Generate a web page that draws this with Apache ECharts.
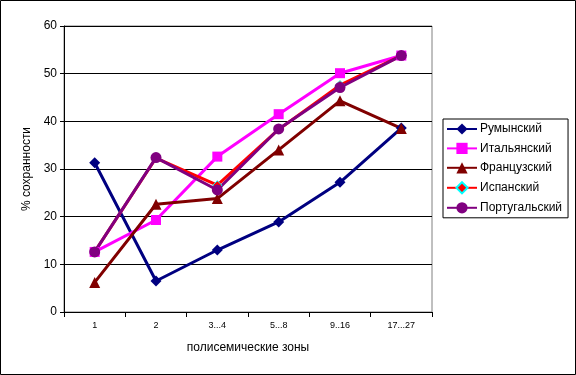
<!DOCTYPE html>
<html><head><meta charset="utf-8">
<script src="https://cdn.jsdelivr.net/npm/echarts@6/dist/echarts.min.js"></script>
<style>html,body{margin:0;padding:0;background:#fff}#c{width:576px;height:375px}</style>
</head><body><div id="c"></div>
<script>
const categories = ['1','2','3...4','5...8','9..16','17...27'];
const romanian   = [31.3, 6.5, 13.0, 18.9, 27.2, 38.6];
const italian    = [12.6, 19.3, 32.6, 41.5, 50.1, 53.8];
const french     = [6.2, 22.6, 23.8, 34.0, 44.3, 38.5];
const spanish    = [12.6, 32.3, 26.6, 38.3, 47.6, 53.8];
const portuguese = [12.6, 32.4, 25.6, 38.4, 47.1, 53.8];
const yTicks = [0,10,20,30,40,50,60];

const F = 'Liberation Sans, Arial, sans-serif';
const chart = echarts.init(document.getElementById('c'), null, {renderer:'canvas'});
function s(name, data, color, symbol, size, extra) {
  return Object.assign({
    name, type:'line', data, symbol, symbolSize:size,
    lineStyle:{color, width:3}, itemStyle:{color, borderWidth:0},
    animation:false
  }, extra||{});
}
chart.setOption({
  animation:false,
  backgroundColor:'#fff',
  textStyle:{fontFamily:F},
  graphic:[{type:'rect', shape:{x:0.5,y:0.5,width:575,height:374}, style:{fill:'none', stroke:'#000', lineWidth:1}, z:-10}],
  grid:{left:64, right:144, top:26, bottom:63, show:true, borderColor:'#808080', borderWidth:1, backgroundColor:'#fff'},
  legend:{
    orient:'vertical', left:443, top:119, padding:[4,6,4,3], itemGap:7.4,
    itemWidth:30, itemHeight:14, borderColor:'#000', borderWidth:1, borderRadius:0,
    textStyle:{fontFamily:F, fontSize:12, color:'#000', padding:[0,0,0,-2]},
    data:['Румынский','Итальянский','Французский','Испанский','Португальский']
  },
  xAxis:{
    type:'category', data:categories, boundaryGap:true,
    axisLine:{lineStyle:{color:'#000', width:1}},
    axisTick:{show:true, length:5, inside:false, lineStyle:{color:'#000'}},
    axisLabel:{fontFamily:F, fontSize:9, color:'#000', margin:9},
    name:'полисемические зоны', nameLocation:'middle', nameGap:30,
    nameTextStyle:{fontFamily:F, fontSize:12, color:'#000'}
  },
  yAxis:{
    type:'value', min:yTicks[0], max:yTicks[yTicks.length-1], interval:10,
    axisLine:{show:true, lineStyle:{color:'#000', width:1}},
    axisTick:{show:true, length:4, lineStyle:{color:'#000'}},
    axisLabel:{fontFamily:F, fontSize:12, color:'#000', margin:7},
    splitLine:{lineStyle:{color:'#000', width:1}},
    name:'% сохранности', nameLocation:'middle', nameGap:29, nameRotate:90,
    nameTextStyle:{fontFamily:F, fontSize:12, color:'#000'}
  },
  series:[
    s('Румынский', romanian, '#000080', 'diamond', 11),
    s('Итальянский', italian, '#FF00FF', 'rect', 10),
    s('Французский', french, '#800000', 'triangle', 11),
    s('Испанский', spanish, '#FF0000', 'diamond', 9, {itemStyle:{color:'#FF0000', borderColor:'#00FFFF', borderWidth:1}}),
    s('Португальский', portuguese, '#800080', 'circle', 11)
  ]
});
</script></body></html>
